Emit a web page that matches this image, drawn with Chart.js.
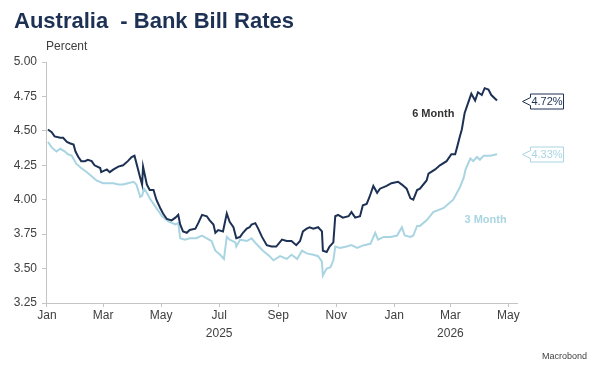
<!DOCTYPE html>
<html>
<head>
<meta charset="utf-8">
<title>Australia - Bank Bill Rates</title>
<script src="https://cdn.jsdelivr.net/npm/chart.js@4.4.1/dist/chart.umd.min.js"></script>
<style>
    body { margin: 0; background: #fff; font-family: 'Liberation Sans', Arial, sans-serif; }
    #wrap { position: relative; width: 589px; height: 370px; overflow: hidden; }
    #chart { position: absolute; left: 0; top: 0; }
    .title { position: absolute; left: 14px; top: 10px; font-size: 22px; line-height: 22px; font-weight: bold; color: #1d3154; white-space: nowrap; }
    .unit { position: absolute; left: 46px; top: 40px; font-size: 12px; line-height: 12px; color: #404040; }
    .source { position: absolute; right: 2px; top: 352px; font-size: 9px; line-height: 9px; color: #404040; }
</style>
</head>
<body>
<div id="wrap">
    <canvas id="chart" width="589" height="370"></canvas>
    <div class="title">Australia&nbsp; - Bank Bill Rates</div>
    <div class="unit">Percent</div>
    <div class="source">Macrobond</div>
</div>
<script>
// days counted from 1 Jan 2025
const monthTicks = [0, 59, 120, 181, 243, 304, 365, 424, 485];
const monthLabels = [['Jan'], ['Mar'], ['May'], ['Jul', '2025'], ['Sep'], ['Nov'], ['Jan'], ['Mar', '2026'], ['May']];
const yTicks = [3.25, 3.50, 3.75, 4.00, 4.25, 4.50, 4.75, 5.00];

const sixMonthDays = [1, 5, 8, 14, 17, 21, 24, 28, 30, 33, 36, 40, 43, 47, 50, 56, 57, 63, 66, 70,
    75, 80, 85, 89, 92, 95, 98, 100, 101, 105, 108, 112, 115, 119, 122, 126, 131, 135, 138, 140,
    143, 147, 150, 156, 159, 163, 168, 171, 175, 177, 180, 185, 189, 192, 196, 199, 203, 206, 210, 213,
    215, 219, 222, 226, 231, 236, 241, 247, 252, 257, 262, 266, 269, 273, 276, 280, 285, 289, 290, 294,
    297, 301, 303, 306, 311, 317, 320, 324, 329, 332, 336, 339, 343, 347, 350, 357, 362, 369, 373, 378,
    382, 385, 389, 392, 399, 401, 408, 413, 420, 425, 429, 431, 434, 436, 439, 443, 446, 450, 453, 457,
    460, 464, 467, 473];
const sixMonthRates = [4.51, 4.49, 4.46, 4.45, 4.45, 4.42, 4.41, 4.40, 4.35, 4.31, 4.28, 4.28, 4.29, 4.28, 4.25, 4.23, 4.20, 4.22, 4.20, 4.22,
    4.24, 4.25, 4.28, 4.31, 4.32, 4.24, 4.16, 4.11, 4.24, 4.11, 4.07, 4.07, 4.00, 3.94, 3.90, 3.86, 3.85, 3.87, 3.89, 3.82,
    3.77, 3.76, 3.78, 3.79, 3.83, 3.89, 3.88, 3.85, 3.82, 3.76, 3.78, 3.77, 3.90, 3.84, 3.80, 3.72, 3.73, 3.76, 3.79, 3.80,
    3.82, 3.83, 3.79, 3.73, 3.67, 3.66, 3.66, 3.71, 3.70, 3.70, 3.67, 3.70, 3.77, 3.79, 3.80, 3.79, 3.80, 3.77, 3.63, 3.62,
    3.66, 3.69, 3.88, 3.89, 3.87, 3.88, 3.91, 3.87, 3.88, 3.96, 3.97, 4.02, 4.10, 4.05, 4.08, 4.10, 4.12, 4.13, 4.11, 4.08,
    4.01, 4.00, 4.07, 4.08, 4.14, 4.19, 4.22, 4.25, 4.28, 4.33, 4.33, 4.38, 4.46, 4.51, 4.63, 4.71, 4.77, 4.72, 4.78, 4.76,
    4.81, 4.80, 4.76, 4.72];

const threeMonthDays = [1, 2, 5, 10, 14, 19, 22, 26, 31, 36, 42, 47, 52, 59, 64, 70, 75, 80, 85, 91,
    94, 98, 100, 102, 105, 108, 114, 121, 128, 135, 138, 140, 145, 150, 157, 163, 168, 173, 177, 182,
    186, 189, 192, 198, 199, 203, 210, 215, 220, 227, 234, 238, 245, 252, 257, 263, 268, 273, 280, 285,
    289, 290, 294, 298, 301, 303, 308, 315, 320, 326, 333, 340, 345, 348, 354, 361, 368, 373, 376, 382,
    385, 389, 392, 399, 406, 417, 427, 434, 438, 440, 445, 448, 452, 455, 459, 466, 473];
const threeMonthRates = [4.42, 4.41, 4.38, 4.35, 4.37, 4.35, 4.33, 4.32, 4.26, 4.23, 4.20, 4.17, 4.14, 4.12, 4.12, 4.12, 4.11, 4.11, 4.12, 4.13,
    4.11, 4.02, 4.03, 4.08, 4.05, 4.01, 3.95, 3.88, 3.84, 3.82, 3.83, 3.72, 3.71, 3.72, 3.72, 3.74, 3.72, 3.70, 3.63, 3.60,
    3.57, 3.73, 3.71, 3.69, 3.66, 3.71, 3.70, 3.72, 3.68, 3.63, 3.59, 3.56, 3.59, 3.57, 3.60, 3.57, 3.63, 3.61, 3.60, 3.59,
    3.55, 3.45, 3.50, 3.51, 3.56, 3.66, 3.65, 3.66, 3.67, 3.65, 3.67, 3.68, 3.76, 3.71, 3.73, 3.73, 3.74, 3.80, 3.74, 3.73,
    3.74, 3.81, 3.81, 3.85, 3.91, 3.94, 4.00, 4.09, 4.16, 4.22, 4.30, 4.28, 4.31, 4.29, 4.32, 4.32, 4.33];

const seriesNames = ['6 Month', '3 Month'];
const seriesColors = ['#1d3154', '#a9d5e2'];
// where the inline series names sit (day, rate)
const nameSpots = [[406, 4.62], [461, 3.85]];

const toPoints = (days, rates) => days.map((d, i) => ({ x: d, y: rates[i] }));

const axisColor = '#c4c4c4';
const textColor = '#404040';

const labelsPlugin = {
    id: 'seriesLabels',
    afterDatasetsDraw(chart) {
        const ctx = chart.ctx;
        const xs = chart.scales.x;
        const ys = chart.scales.y;
        const area = chart.chartArea;
        ctx.save();
        ctx.font = 'bold 11px "Liberation Sans", Arial, sans-serif';
        ctx.textAlign = 'center';
        ctx.textBaseline = 'middle';
        nameSpots.forEach((spot, i) => {
            ctx.fillStyle = i === 0 ? '#333333' : seriesColors[1];
            ctx.fillText(seriesNames[i], xs.getPixelForValue(spot[0]), ys.getPixelForValue(spot[1]));
        });

        // end value tags
        ctx.font = '11px "Liberation Sans", Arial, sans-serif';
        chart.data.datasets.forEach((ds, i) => {
            const last = ds.data[ds.data.length - 1];
            const y = Math.round(ys.getPixelForValue(last.y)) + 0.5;
            const tip = area.right + 5.5;
            const left = tip + 8;
            const right = left + 33;
            const top = y - 7.5;
            const bottom = y + 7.5;
            ctx.beginPath();
            ctx.moveTo(left, top);
            ctx.lineTo(right, top);
            ctx.lineTo(right, bottom);
            ctx.lineTo(left, bottom);
            ctx.lineTo(left, y + 4);
            ctx.lineTo(tip, y);
            ctx.lineTo(left, y - 4);
            ctx.closePath();
            ctx.fillStyle = '#fff';
            ctx.fill();
            ctx.strokeStyle = seriesColors[i];
            ctx.lineWidth = 1;
            ctx.stroke();
            ctx.fillStyle = seriesColors[i];
            ctx.fillText(last.y.toFixed(2) + '%', (left + right) / 2, y + 0.5);
        });
        ctx.restore();
    }
};

new Chart(document.getElementById('chart'), {
    type: 'line',
    data: {
        datasets: [
            {
                label: seriesNames[0],
                data: toPoints(sixMonthDays, sixMonthRates),
                borderColor: seriesColors[0],
                borderWidth: 2,
                pointRadius: 0,
                tension: 0,
                order: 1
            },
            {
                label: seriesNames[1],
                data: toPoints(threeMonthDays, threeMonthRates),
                borderColor: seriesColors[1],
                borderWidth: 2,
                pointRadius: 0,
                tension: 0,
                order: 2
            }
        ]
    },
    options: {
        responsive: false,
        animation: false,
        layout: { padding: { top: 62, right: 72, left: 0, bottom: 0 } },
        plugins: {
            legend: { display: false },
            tooltip: { enabled: false }
        },
        scales: {
            x: {
                type: 'linear',
                min: -1,
                max: 494,
                afterBuildTicks: (scale) => {
                    scale.ticks = monthTicks.map(v => ({ value: v }));
                },
                afterFit: (scale) => { scale.height = 67; },
                border: { display: true, color: axisColor },
                grid: { display: true, drawOnChartArea: false, drawTicks: true, tickLength: 4, color: axisColor },
                ticks: {
                    padding: 0,
                    maxRotation: 0,
                    autoSkip: false,
                    color: textColor,
                    font: { family: 'Liberation Sans', size: 12, lineHeight: 1.5 },
                    callback: (value) => {
                        const idx = monthTicks.indexOf(value);
                        return idx >= 0 ? monthLabels[idx] : '';
                    }
                }
            },
            y: {
                min: 3.25,
                max: 5.00,
                afterBuildTicks: (scale) => {
                    scale.ticks = yTicks.map(v => ({ value: v }));
                },
                afterFit: (scale) => { scale.width = 46; },
                border: { display: true, color: axisColor },
                grid: { display: true, drawOnChartArea: false, drawTicks: true, tickLength: 4, color: axisColor },
                ticks: {
                    padding: 5,
                    color: textColor,
                    font: { family: 'Liberation Sans', size: 12 },
                    callback: (value) => Number(value).toFixed(2)
                }
            }
        }
    },
    plugins: [labelsPlugin]
});
</script>
</body>
</html>
